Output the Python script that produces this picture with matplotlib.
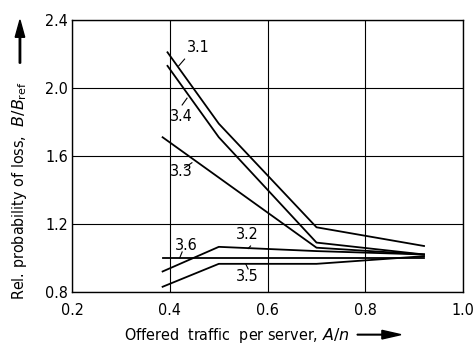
import matplotlib.pyplot as plt
from matplotlib import font_manager
from matplotlib.patches import FancyArrow

# narrow sans face for all text
cond = [f for f in font_manager.fontManager.ttflist
        if f.name == 'DejaVu Sans' and f.stretch == 'condensed'
        and 'Bold' not in f.fname and 'Oblique' not in f.fname
        and 'Light' not in f.fname]
if cond:
    fp = font_manager.FontProperties(fname=cond[0].fname, size=11.5)
else:
    fp = font_manager.FontProperties(family='DejaVu Sans', size=11)
plt.rcParams['mathtext.fontset'] = 'custom'
plt.rcParams['mathtext.rm'] = 'DejaVu Sans:stretch=condensed'
plt.rcParams['mathtext.it'] = 'DejaVu Sans:italic:stretch=condensed'

# relative loss probability B/B_ref versus offered traffic per server
x_a = [0.395, 0.5, 0.7, 0.92]
x_b = [0.385, 0.5, 0.7, 0.92]
x_c = [0.385, 0.7, 0.92]
x_d = [0.385, 0.92]

curve_31 = [2.21, 1.79, 1.18, 1.07]
curve_34 = [2.13, 1.71, 1.09, 1.02]
curve_33 = [1.71, 1.06, 1.02]
curve_32 = [0.92, 1.065, 1.04, 1.02]
curve_36 = [1.0, 1.0]
curve_35 = [0.83, 0.965, 0.965, 1.01]

xticks = [0.2, 0.4, 0.6, 0.8, 1.0]
yticks = [0.8, 1.2, 1.6, 2.0, 2.4]

fig = plt.figure(figsize=(4.75, 3.45), dpi=100)
ax = fig.add_axes([0.152, 0.154, 0.823, 0.788])

lw = 1.3
ax.plot(x_a, curve_31, color='black', lw=lw)
ax.plot(x_a, curve_34, color='black', lw=lw)
ax.plot(x_c, curve_33, color='black', lw=lw)
ax.plot(x_b, curve_32, color='black', lw=lw)
ax.plot(x_d, curve_36, color='black', lw=lw)
ax.plot(x_b, curve_35, color='black', lw=lw)

ax.set_xlim(0.2, 1.0)
ax.set_ylim(0.8, 2.4)
ax.set_xticks(xticks)
ax.set_yticks(yticks)
ax.set_xticklabels(['%.1f' % v for v in xticks], fontproperties=fp)
ax.set_yticklabels(['%.1f' % v for v in yticks], fontproperties=fp)
ax.tick_params(axis='x', length=0, pad=8)
ax.tick_params(axis='y', length=0, pad=3)
ax.grid(True, color='black', lw=0.8)
for s in ax.spines.values():
    s.set_linewidth(1.0)


# curve labels with short leader strokes
def label(text, tx, ty, lx, ly, ex, ey):
    ax.text(tx, ty, text, fontproperties=fp, ha='left', va='center')
    ax.plot([lx, ex], [ly, ey], color='black', lw=0.8)


label('3.1', 0.435, 2.24, 0.418, 2.13, 0.43, 2.17)
label('3.4', 0.4, 1.83, 0.425, 1.90, 0.435, 1.94)
label('3.3', 0.4, 1.51, 0.43, 1.53, 0.445, 1.56)
label('3.2', 0.535, 1.14, 0.56, 1.055, 0.565, 1.07)
label('3.6', 0.41, 1.07, 0.42, 1.0, 0.425, 1.035)
label('3.5', 0.535, 0.89, 0.555, 0.965, 0.56, 0.935)

fig.text(0.262, 0.028, 'Offered  traffic  per server, $A/n$', fontproperties=fp,
         ha='left', va='center')
fig.patches.append(FancyArrow(
    0.752, 0.03, 0.092, 0, width=0.002, head_width=0.025, head_length=0.04,
    length_includes_head=True, color='black', transform=fig.transFigure))

fig.text(0.042, 0.13, r'Rel. probability of loss,  $B/B_{\rm ref}$', fontproperties=fp,
         rotation=90, ha='center', va='bottom')
fig.patches.append(FancyArrow(
    0.042, 0.817, 0, 0.125, width=0.003, head_width=0.02, head_length=0.05,
    length_includes_head=True, color='black', transform=fig.transFigure))

fig.savefig('out.png', dpi=100, facecolor='white')
